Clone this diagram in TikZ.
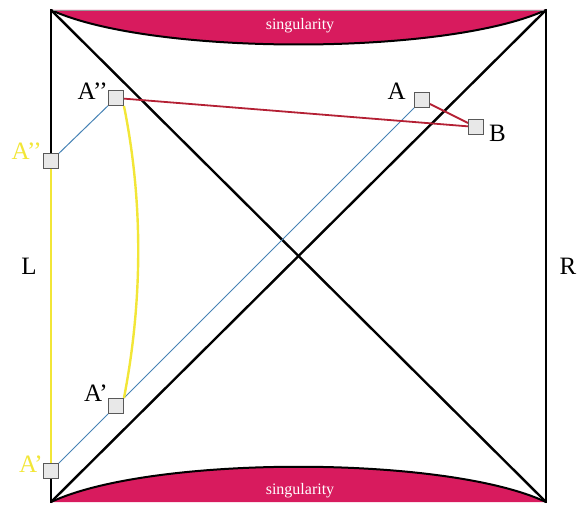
\documentclass[tikz,border=0pt]{standalone}
\usepackage{fontspec}
\setmainfont{Liberation Serif}
\definecolor{singred}{RGB}{216,27,94}
\definecolor{linkred}{RGB}{180,32,52}
\definecolor{rayblue}{RGB}{70,130,180}
\definecolor{tracegold}{RGB}{242,230,55}
\pgfdeclarelayer{back}
\pgfsetlayers{back,main}
\tikzset{
  edge/.style={line width=2.4pt, draw=black, line cap=round, line join=round},
  singzone/.style={fill=singred, draw=none},
  singrim/.style={line width=2pt, draw=black},
  probe/.style={draw=black!65, fill=black!9, line width=0.9pt, minimum size=15pt, inner sep=0pt},
  probelabel/.style={font=\fontsize{25}{28}\selectfont, inner sep=0pt},
  singlabel/.style={font=\fontsize{16}{18}\selectfont, text=white, inner sep=0pt},
  ray/.style={line width=1pt, draw=rayblue},
  link/.style={line width=1.8pt, draw=linkred},
  trace/.style={line width=2.4pt, draw=tracegold},
}
\begin{document}
\begin{tikzpicture}[x=1pt,y=-1pt]
\useasboundingbox (0,0) rectangle (579,505);
% corners of the diagram
\coordinate (tl) at (51,10);
\coordinate (tr) at (546,10);
\coordinate (bl) at (51,502);
\coordinate (br) at (546,502);
% probes
\node[probe] (app) at (116,98) {};
\node[probe] (appl) at (51,161) {};
\node[probe] (ap) at (116,406) {};
\node[probe] (apl) at (51,471) {};
\node[probe] (a) at (422,100) {};
\node[probe] (b) at (476,127) {};
\begin{pgfonlayer}{back}
% singularities
\fill[singzone] (tl) .. controls (151,56) and (446,56) .. (tr) -- cycle;
\fill[singzone] (bl) .. controls (151,455) and (446,455) .. (br) -- cycle;
\draw[singrim] (tl) .. controls (151,56) and (446,56) .. (tr);
\draw[singrim] (bl) .. controls (151,455) and (446,455) .. (br);
\draw[black!40, line width=0.5pt] (tl) -- (tr);
% frame and horizons
\draw[edge] (tl) -- (bl);
\draw[edge] (tr) -- (br);
\draw[edge] (tl) -- (br);
\draw[edge] (tr) -- (bl);
% rays, links, traces
\draw[ray] (appl) -- (app);
\draw[ray] (apl) -- (ap) -- (a);
\draw[link] (app) -- (b);
\draw[link] (a) -- (b);
\draw[trace] (appl) -- (apl);
\draw[trace] (app.south east) .. controls (143,200) and (143,300) .. (ap.north east);
\end{pgfonlayer}
% labels
\node[probelabel, anchor=base east] (lapp) at (108,100) {A’’};
\node[probelabel, anchor=base east, text=tracegold] (lappl) at (42,160) {A’’};
\node[probelabel, anchor=base east] (lap) at (108,402) {A’};
\node[probelabel, anchor=base east, text=tracegold] (lapl) at (43,472) {A’};
\node[probelabel, anchor=base east] (la) at (406,100) {A};
\node[probelabel, anchor=base west] (lb) at (489,142) {B};
\node[probelabel, anchor=base] (lleft) at (29,275) {L};
\node[probelabel, anchor=base] (lright) at (568,275) {R};
\node[singlabel, anchor=base] (stop) at (300,30) {singularity};
\node[singlabel, anchor=base] (sbot) at (300,494) {singularity};
\end{tikzpicture}
\end{document}
